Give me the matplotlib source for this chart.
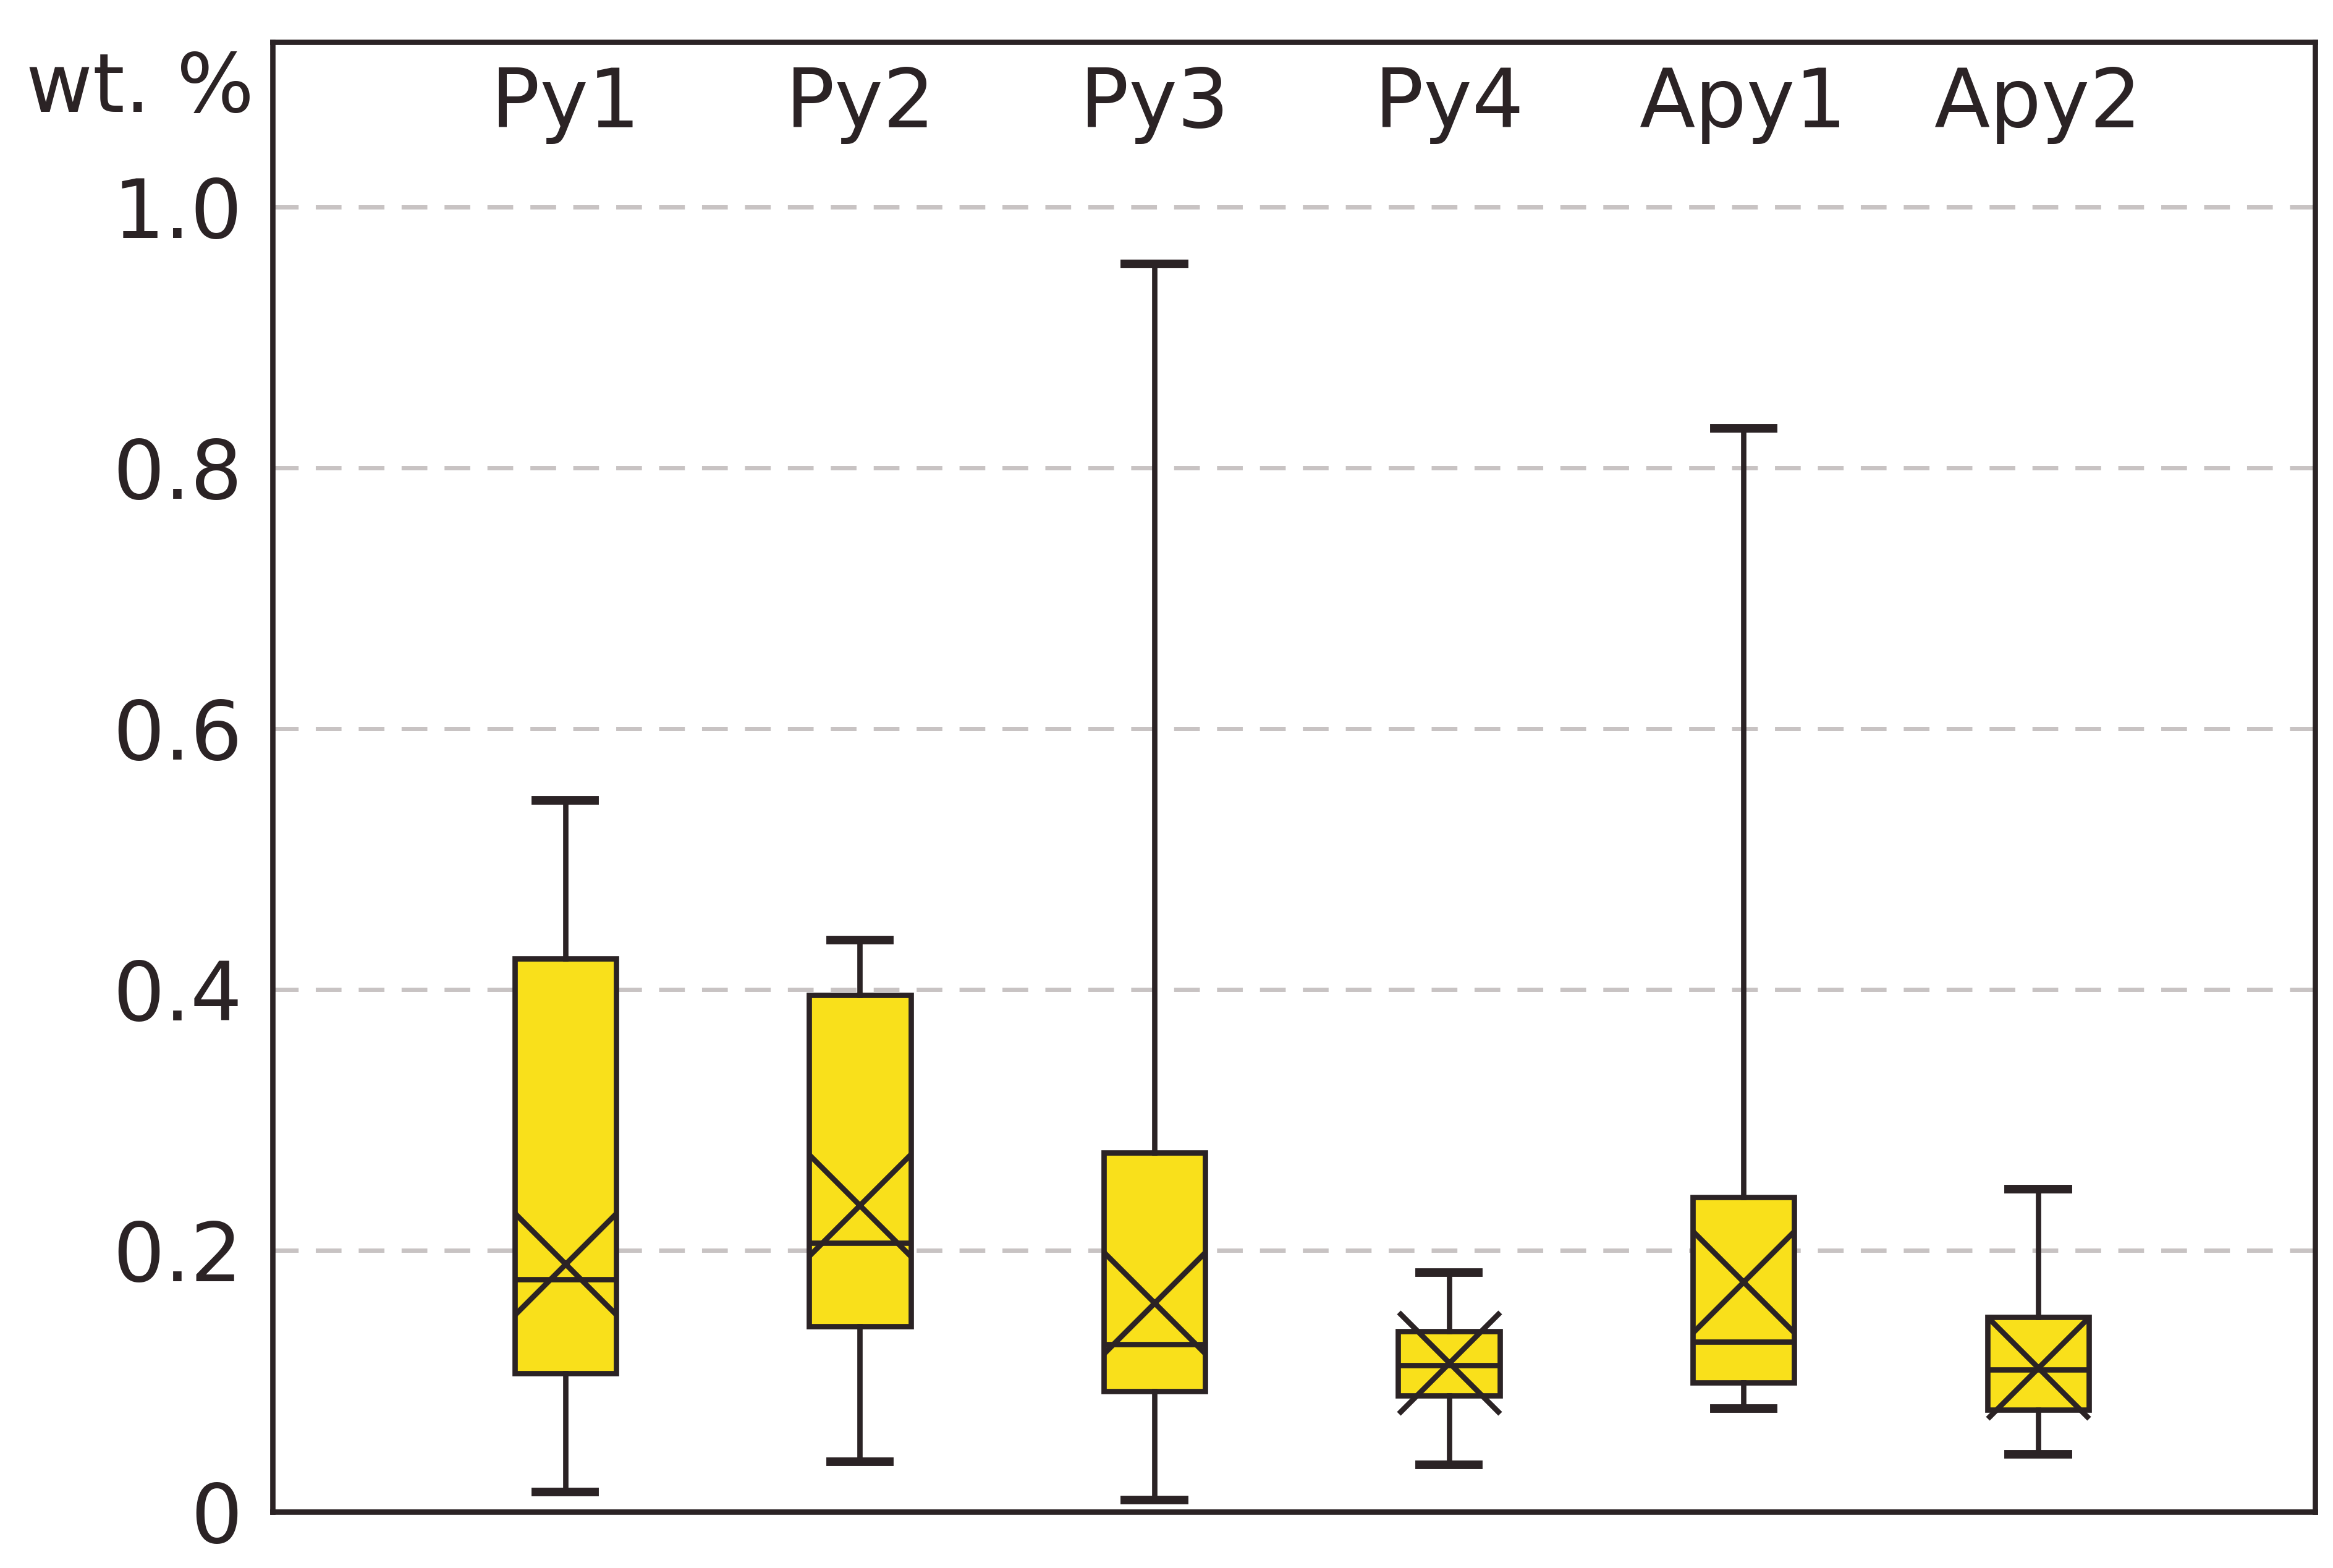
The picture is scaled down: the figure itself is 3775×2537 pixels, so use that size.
import matplotlib

matplotlib.use("Agg")
import matplotlib.pyplot as plt

labels = ["Py1", "Py2", "Py3", "Py4", "Apy1", "Apy2"]
whislo = [0.015, 0.038, 0.009, 0.036, 0.079, 0.044]
q1 = [0.106, 0.142, 0.092, 0.089, 0.099, 0.078]
med = [0.178, 0.206, 0.128, 0.112, 0.130, 0.109]
q3 = [0.424, 0.396, 0.275, 0.138, 0.241, 0.149]
whishi = [0.545, 0.438, 0.956, 0.183, 0.830, 0.247]
means = [0.190, 0.235, 0.160, 0.114, 0.176, 0.110]
yticks = [0, 0.2, 0.4, 0.6, 0.8, 1.0]
ytick_labels = ["0", "0.2", "0.4", "0.6", "0.8", "1.0"]

dark = "#2b2325"
yellow = "#f9e01b"

fig = plt.figure(figsize=(15.1, 10.148), dpi=250)
ax = fig.add_axes([0.1167, 0.036, 0.8756, 0.937])

stats = [dict(whislo=a, q1=b, med=c, q3=d, whishi=e, fliers=[], label=l)
         for a, b, c, d, e, l in zip(whislo, q1, med, q3, whishi, labels)]
pos = list(range(1, len(labels) + 1))
ax.bxp(stats, positions=pos, widths=0.345, patch_artist=True, showfliers=False,
       boxprops=dict(facecolor=yellow, edgecolor=dark, linewidth=2.5),
       medianprops=dict(color=dark, linewidth=2.5),
       whiskerprops=dict(color=dark, linewidth=2.5),
       capprops=dict(color=dark, linewidth=4), capwidths=0.2, zorder=3)
ax.plot(pos, means, linestyle="none", marker="x", markersize=47,
        markeredgewidth=2.5, color=dark, zorder=4)

for p, l in zip(pos, labels):
    ax.text(p, 1.078, l, ha="center", va="center", fontsize=38, color=dark)
fig.text(0.06, 0.943, "wt. %", ha="center", va="center", fontsize=38, color=dark)

ax.set_xlim(0.005, 6.94)
ax.set_ylim(0, 1.126)
ax.set_xticks([])
ax.set_yticks(yticks)
ax.set_yticklabels(ytick_labels, fontsize=38, color=dark)
ax.tick_params(axis="y", length=0, pad=14)
for y in yticks[1:]:
    ax.axhline(y, color="#c8c3c3", linestyle=(0, (6, 4)), linewidth=2, zorder=1)
for s in ax.spines.values():
    s.set_color(dark)
    s.set_linewidth(2.5)

fig.savefig("out.png", dpi=250)
